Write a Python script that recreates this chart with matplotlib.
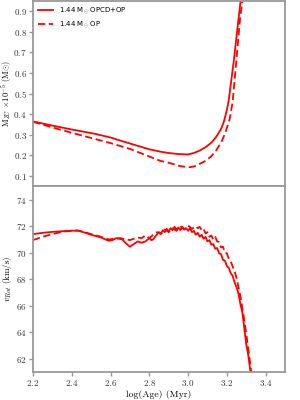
import matplotlib
matplotlib.use('Agg')
import matplotlib.pyplot as plt

plt.rcParams['font.family'] = 'serif'
plt.rcParams['font.serif'] = ['cmr10']
plt.rcParams['mathtext.fontset'] = 'cm'
plt.rcParams['axes.formatter.use_mathtext'] = True

# масса конвективной зоны, x1e-5 Msun
age_mzc_opcd = [2.20, 2.30, 2.40, 2.52, 2.60, 2.70, 2.80, 2.86, 2.90, 2.95, 3.00, 3.03, 3.06,
                3.09, 3.12, 3.145, 3.17, 3.185, 3.20, 3.21, 3.236, 3.259, 3.271, 3.28]
mzc_opcd = [0.365, 0.345, 0.326, 0.305, 0.287, 0.258, 0.230, 0.218, 0.212, 0.207, 0.205, 0.212,
            0.224, 0.240, 0.262, 0.290, 0.328, 0.365, 0.420, 0.470, 0.660, 0.853, 0.950, 1.05]
age_mzc_op = [2.20, 2.30, 2.40, 2.52, 2.60, 2.70, 2.80, 2.857, 2.91, 2.96, 3.01, 3.035, 3.06,
              3.09, 3.12, 3.145, 3.17, 3.19, 3.204, 3.214, 3.23, 3.249, 3.267, 3.28, 3.29]
mzc_op = [0.363, 0.336, 0.310, 0.280, 0.260, 0.232, 0.195, 0.174, 0.162, 0.148, 0.143, 0.148,
          0.159, 0.174, 0.196, 0.225, 0.262, 0.305, 0.345, 0.375, 0.460, 0.660, 0.853, 0.950, 1.05]

# скорость вращения, km/s
age_v_opcd = [2.20, 2.25, 2.30, 2.35, 2.40, 2.43, 2.46, 2.50, 2.55, 2.59, 2.61, 2.63, 2.66, 2.68,
              2.70, 2.72, 2.74, 2.76, 2.78, 2.80, 2.81, 2.82, 2.84, 2.85, 2.86, 2.87, 2.88, 2.89,
              2.90, 2.91, 2.92, 2.93, 2.94, 2.95, 2.96, 2.97, 2.98, 2.99, 3.00, 3.01, 3.02, 3.03,
              3.04, 3.05, 3.06, 3.07, 3.08, 3.09, 3.10, 3.11, 3.12, 3.13, 3.14, 3.15, 3.16, 3.17,
              3.18, 3.19, 3.20, 3.21, 3.22, 3.23, 3.24, 3.25, 3.26, 3.27, 3.28, 3.29, 3.30, 3.31,
              3.32, 3.33]
v_opcd = [71.40, 71.50, 71.57, 71.62, 71.66, 71.66, 71.55, 71.35, 71.15, 70.90, 70.95, 71.10,
          71.00, 70.70, 70.45, 70.65, 70.85, 70.75, 70.85, 71.10, 70.95, 71.00, 71.40, 71.55,
          71.45, 71.70, 71.55, 71.80, 71.60, 71.85, 71.70, 71.95, 71.75, 71.90, 71.70, 71.95,
          71.75, 71.85, 71.65, 71.85, 71.55, 71.65, 71.35, 71.50, 71.20, 71.35, 71.05, 71.20,
          70.85, 70.95, 70.60, 70.65, 70.30, 70.35, 69.95, 69.90, 69.45, 69.40, 69.00, 68.85,
          68.45, 68.25, 67.75, 67.40, 66.90, 66.10, 65.50, 64.30, 63.10, 62.30, 61.20, 60.00]
age_v_op = [2.20, 2.25, 2.30, 2.35, 2.40, 2.43, 2.46, 2.50, 2.55, 2.59, 2.62, 2.65, 2.68, 2.70,
            2.72, 2.74, 2.76, 2.78, 2.80, 2.82, 2.84, 2.86, 2.88, 2.90, 2.92, 2.94, 2.96, 2.98,
            3.00, 3.02, 3.04, 3.05, 3.06, 3.07, 3.08, 3.09, 3.10, 3.11, 3.12, 3.13, 3.14, 3.15,
            3.16, 3.17, 3.18, 3.19, 3.20, 3.21, 3.22, 3.23, 3.24, 3.25, 3.26, 3.27, 3.28, 3.29,
            3.30, 3.31, 3.32, 3.33]
v_op = [70.95, 71.20, 71.40, 71.58, 71.65, 71.68, 71.58, 71.40, 71.20, 71.00, 71.05, 71.10,
        71.00, 70.95, 71.05, 71.15, 71.10, 71.30, 71.10, 71.35, 71.55, 71.40, 71.75, 71.55,
        71.85, 71.65, 72.00, 71.75, 72.05, 71.80, 72.00, 71.85, 71.95, 71.70, 71.80, 71.45,
        71.55, 71.20, 71.30, 71.00, 71.20, 70.85, 70.80, 70.40, 70.45, 70.00, 69.95, 69.55,
        69.35, 68.95, 68.60, 68.10, 67.40, 66.70, 65.80, 64.90, 63.90, 62.80, 61.70, 60.50]

fig, (ax1, ax2) = plt.subplots(2, 1, figsize=(3, 4), dpi=100, sharex=True)
plt.subplots_adjust(left=0.11, right=0.95, top=0.998, bottom=0.07, hspace=0)

ax1.plot(age_mzc_opcd, mzc_opcd, color='red', lw=1.3, label=r'1.44 M$_{\odot}$ OPCD+OP')
ax1.plot(age_mzc_op, mzc_op, color='red', lw=1.3, ls='--', dashes=(4, 2),
         label=r'1.44 M$_{\odot}$ OP')
ax1.set_ylim(0.05, 0.95)
ax1.set_yticks([0.1, 0.2, 0.3, 0.4, 0.5, 0.6, 0.7, 0.8, 0.9])
ax1.set_ylabel(r'M$_{ZC}$ $\times 10^{-5}$ (M$\odot$)', fontsize=6)
ax1.legend(loc='upper left', frameon=False, prop={'family': 'DejaVu Sans', 'size': 5},
           handlelength=2.2, borderaxespad=0.3)

ax2.plot(age_v_opcd, v_opcd, color='red', lw=1.3)
ax2.plot(age_v_op, v_op, color='red', lw=1.3, ls='--', dashes=(4, 2))
ax2.set_ylim(61, 75)
ax2.set_yticks([62, 64, 66, 68, 70, 72, 74])
ax2.set_xlim(2.2, 3.5)
ax2.set_xticks([2.2, 2.4, 2.6, 2.8, 3.0, 3.2, 3.4])
ax2.set_ylabel(r'$v_{Rot}$ (km/s)', fontsize=6.5)
ax2.set_xlabel('log(Age) (Myr)', fontsize=7, labelpad=1)

for ax in (ax1, ax2):
    for s in ax.spines.values():
        s.set_color('#999999')
        s.set_linewidth(1.3)
    ax.tick_params(colors='#999999', labelcolor='#333333', labelsize=6.5, length=3, width=1, pad=1.5)
    ax.yaxis.set_label_coords(-0.077, 0.5)
ax1.tick_params(axis='x', length=0)

plt.savefig('out.png', dpi=100)
